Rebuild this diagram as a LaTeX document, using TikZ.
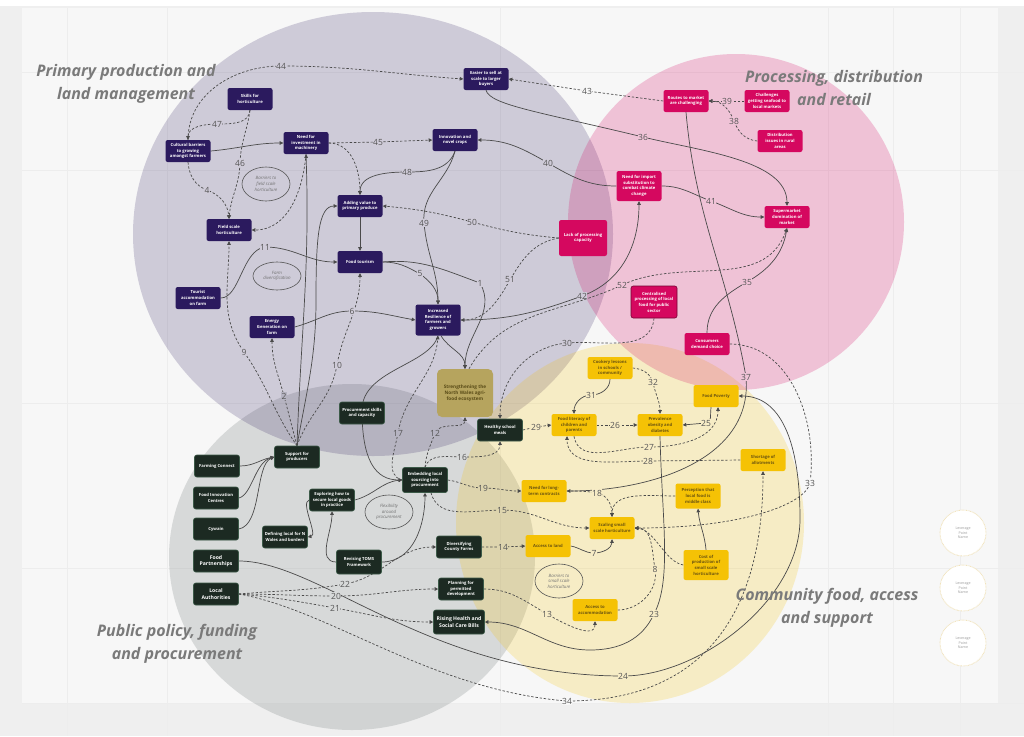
\documentclass[tikz,border=0pt]{standalone}
\usepackage{fontspec}
\setmainfont{Open Sans}
\usetikzlibrary{arrows.meta,shapes.geometric}
\pgfdeclarelayer{bg}
\pgfdeclarelayer{edges}
\pgfsetlayers{bg,edges,main}
\definecolor{bgc}{HTML}{F7F7F7}
\definecolor{outc}{HTML}{EFEFEF}
\definecolor{gridc}{HTML}{EDEDED}
\definecolor{cP}{HTML}{2D1B5E}
\definecolor{cK}{HTML}{D4005E}
\definecolor{cY}{HTML}{F5C000}
\definecolor{cG}{HTML}{7D8585}
\colorlet{rW}{bgc}
\colorlet{rP}{cP!20!bgc}
\colorlet{rK}{cK!21!bgc}
\colorlet{rY}{cY!20!bgc}
\colorlet{rG}{cG!26!bgc}
\colorlet{rGP}{cP!20!rG}
\colorlet{rGY}{cY!20!rG}
\definecolor{nodeP}{HTML}{2B1A5E}
\definecolor{nodeK}{HTML}{D5085F}
\definecolor{nodeY}{HTML}{F5C205}
\definecolor{txtY}{HTML}{6B5410}
\definecolor{nodeG}{HTML}{1C2A22}
\definecolor{nodeGb}{HTML}{3C5A48}
\definecolor{stF}{HTML}{B6A45E}
\definecolor{stT}{HTML}{5A4C18}
\definecolor{lineC}{HTML}{4A4A4A}
\definecolor{lblC}{HTML}{555555}
\definecolor{ttlC}{HTML}{7A7A7A}
\definecolor{annC}{HTML}{555555}
\definecolor{annT}{HTML}{707070}
\definecolor{levB}{HTML}{F1E3BC}
\newcommand\ndFont{\fontsize{4.2}{5.7}\selectfont\bfseries}
\newcommand\ndBig{\fontsize{5.1}{6.5}\selectfont\bfseries}
\newcommand\anFont{\fontsize{4.4}{5.6}\selectfont\itshape}
\newcommand\lbFont{\fontsize{8.5}{9}\selectfont}
\newcommand\titFont{\fontsize{16}{23}\selectfont\bfseries\itshape}
\newcommand\levFont{\fontsize{3.6}{4.6}\selectfont}
\tikzset{
  box/.style={rounded corners=2.2pt, align=center, inner sep=1pt, font=\ndFont, minimum width=45pt, minimum height=22pt},
  pn/.style={box, fill=nodeP, text=white},
  kn/.style={box, fill=nodeK, text=white},
  yn/.style={box, fill=nodeY, text=txtY},
  gn/.style={box, fill=nodeG, text=white, draw=nodeGb, line width=0.6pt},
  stbox/.style={box, fill=stF, text=stT, rounded corners=5pt, minimum width=56pt, minimum height=48pt, font=\fontsize{4.7}{6}\selectfont\bfseries},
  ann/.style={ellipse, draw=annC, line width=0.6pt, inner sep=0pt, minimum width=48pt, minimum height=34pt, align=center, font=\anFont, text=annT},
  lev/.style={circle, minimum size=46pt, fill=white, draw=levB, line width=0.9pt, dash pattern=on 0.7pt off 0.7pt, font=\levFont, text=black!40, align=center, inner sep=0pt},
  ttl/.style={font=\titFont, text=ttlC, align=center},
  ln/.style={draw=lineC, line width=0.7pt, -{Triangle[length=3.6pt,width=3.6pt]}},
  dl/.style={ln, dash pattern=on 2.4pt off 1.8pt},
  lb/.style={font=\lbFont, text=lblC, fill=#1, inner sep=0.6pt},
}
\begin{document}
\begin{tikzpicture}[x=1pt,y=1pt]
\useasboundingbox (0,0) rectangle (1024,-736);
\begin{pgfonlayer}{bg}
  \fill[outc] (0,0) rectangle (1024,-736);
  \fill[white] (0,0) rectangle (1024,-6);
  \fill[bgc] (22,-8) rectangle (998,-703);
  \foreach \gx in {67,167,500,828,893,960} \draw[gridc, line width=0.5pt] (\gx,-8) -- (\gx,-736);
  \foreach \gy in {72,170,403,568,703} \draw[gridc, line width=0.5pt] (22,-\gy) -- (1024,-\gy);
  \fill[cG, fill opacity=0.26] (352,-557) ellipse [x radius=183, y radius=173];
  \fill[cP, fill opacity=0.2] (373,-234) ellipse [x radius=240, y radius=222];
  \fill[cY, fill opacity=0.2] (630,-523) ellipse [x radius=174, y radius=180];
  \fill[cK, fill opacity=0.21] (736,-222) circle [radius=168];
\end{pgfonlayer}

% titles
\node[ttl] (t1) at (126,-84) {Primary production and\\land management};
\node[ttl] (t2) at (834,-88) {Processing, distribution\\and retail};
\node[ttl] (t3) at (177,-644) {Public policy, funding\\and procurement};
\node[ttl] (t4) at (827,-608) {Community food, access\\and support};

% purple nodes
\node[pn] (easier) at (486,-79) {Easier to sell at\\scale to larger\\buyers};
\node[pn] (skills) at (250,-99) {Skills for\\horticulture};
\node[pn] (cultural) at (188,-151) {Cultural barriers\\to growing\\amongst farmers};
\node[pn] (invest) at (306,-143) {Need for\\investment in\\machinery};
\node[pn] (innov) at (455,-140) {Innovation and\\novel crops};
\node[pn] (addval) at (360,-206) {Adding value to\\primary produce};
\node[pn] (field) at (229,-230) {Field scale\\horticulture};
\node[pn] (tourism) at (360,-262) {Food tourism};
\node[pn] (tourist) at (198,-298) {Tourist\\accommodation\\on farm};
\node[pn] (energy) at (272,-327) {Energy\\Generation on\\farm};
\node[pn, minimum height=31pt] (resil) at (438,-320) {Increased\\Resilience of\\farmers and\\growers};

% pink nodes
\node[kn] (routes) at (686,-101) {Routes to market\\are challenging};
\node[kn] (seafood) at (767,-101) {Challenges\\getting seafood to\\local markets};
\node[kn] (distrib) at (780,-141) {Distribution\\issues in rural\\areas};
\node[kn, minimum height=30pt] (import) at (639,-186) {Need for import\\substitution to\\combat climate\\change};
\node[kn] (superm) at (787,-217) {Supermarket\\domination of\\market};
\node[kn, minimum width=48pt, minimum height=36pt] (lackproc) at (583,-238) {Lack of processing\\capacity};
\node[kn, minimum width=46pt, minimum height=32pt, draw=nodeK!55!black, line width=0.6pt] (central) at (654,-302) {Centralised\\processing of local\\food for public\\sector};
\node[kn] (consumers) at (707,-344) {Consumers\\demand choice};

% yellow nodes
\node[yn] (cookery) at (610,-368) {Cookery lessons\\in schools /\\community};
\node[yn] (poverty) at (716,-396) {Food Poverty};
\node[yn] (literacy) at (574,-425) {Food literacy of\\children and\\parents};
\node[yn] (obesity) at (660,-425) {Prevalence\\obesity and\\diabetes};
\node[yn] (allot) at (763,-460) {Shortage of\\allotments};
\node[yn] (longterm) at (544,-491) {Need for long-\\term contracts};
\node[yn, minimum height=25pt] (percep) at (698,-496) {Perception that\\local food is\\middle class};
\node[yn] (scaling) at (612,-528) {Scaling small\\scale horticulture};
\node[yn] (land) at (548,-546) {Access to land};
\node[yn, minimum height=30pt] (cost) at (706,-565) {Cost of\\production of\\small scale\\horticulture};
\node[yn] (accom) at (595,-610) {Access to\\accommodation};

% green nodes
\node[gn] (meals) at (500,-430) {Healthy school\\meals};
\node[gn] (procure) at (362,-413) {Procurement skills\\and capacity};
\node[gn] (support) at (297,-457) {Support for\\producers};
\node[gn, minimum height=25pt] (embed) at (425,-480) {Embedding local\\sourcing into\\procurement};
\node[gn] (farmconn) at (217,-466) {Farming Connect};
\node[gn] (fic) at (216,-498) {Food Innovation\\Centres};
\node[gn] (cywain) at (216,-529) {Cywain};
\node[gn, font=\ndBig] (foodpart) at (216,-561) {Food\\Partnerships};
\node[gn, font=\ndBig] (localauth) at (216,-594) {Local\\Authorities};
\node[gn] (explore) at (332,-500) {Exploring how to\\secure local goods\\in practice};
\node[gn] (defining) at (285,-537) {Defining local for N\\Wales and borders};
\node[gn, minimum height=24pt] (toms) at (359,-562) {Revising TOMS\\Framework};
\node[gn] (county) at (459,-547) {Diversifying\\County Farms};
\node[gn] (planning) at (461,-589) {Planning for\\permitted\\development};
\node[gn, font=\ndBig, minimum width=51pt, minimum height=24pt] (rising) at (459,-622) {Rising Health and\\Social Care Bills};

\node[stbox] (strength) at (465,-393) {Strengthening the\\North Wales agri-\\food ecosystem};

% annotation ellipses
\node[ann] (ann1) at (266,-184) {Barriers to\\field scale\\horticulture};
\node[ann, minimum height=28pt] (ann2) at (277,-276) {Farm\\diversification};
\node[ann] (ann3) at (389,-512) {Flexibility\\around\\procurement};
\node[ann] (ann4) at (559,-581) {Barriers to\\small scale\\horticulture};

% leverage points
\node[lev] (lv1) at (963,-533) {Leverage\\Point\\Name};
\node[lev] (lv2) at (963,-588) {Leverage\\Point\\Name};
\node[lev] (lv3) at (963,-643) {Leverage\\Point\\Name};

\begin{pgfonlayer}{edges}
% primary production
\draw[dl] (cultural.north) to[out=90,in=180] (281,-66) node[lb=rP]{44} to[out=0,in=176] (easier.west);
\draw[dl] (skills.south) to[out=-95,in=0] (217,-124) node[lb=rP]{47} to[out=180,in=90] (cultural.north);
\draw[dl] (skills.south) to[out=-98,in=88] (240,-163) node[lb=rP]{46} to[out=-92,in=85] (field.north);
\draw[dl] (cultural.south) to[out=-85,in=160] (207,-190) node[lb=rP]{4} to[out=-20,in=95] (field.north);
\draw[ln] (cultural.east) to[out=5,in=180] (invest.west);
\draw[dl] (invest.east) -- (378,-142) node[lb=rP]{45} -- (innov.west);
\draw[dl] (invest.east) to[out=0,in=90] (addval.north);
\draw[ln] (innov.south) to[out=-110,in=0] (407,-172) node[lb=rP]{48} to[out=180,in=90] (addval.north);
\draw[ln] (innov.south) to[out=-105,in=95] (424,-223) node[lb=rP]{49} to[out=-85,in=90] (resil.north);
\draw[ln] (addval.south) -- (tourism.north);
\draw[dl] (lackproc.west) to[out=175,in=-15] (472,-222) node[lb=rP]{50} to[out=165,in=-5] (addval.east);
\draw[ln] (support.north) to[out=88,in=-88] (invest.south);
\draw[ln] (support.north) to[out=80,in=-90] (316,-300) .. controls (316,-240) and (318,-206) .. (addval.west);
\draw[dl] (support.north) to[out=70,in=-100] (337,-365) node[lb=rP]{10} to[out=80,in=-90] (tourism.south);
\draw[dl] (support.north) to[out=105,in=-75] (284,-396) node[lb=rGP]{2} to[out=105,in=-90] (energy.south);
\draw[dl] (support.north) to[out=125,in=-55] (244,-352) node[lb=rP]{9} to[out=125,in=-90] (field.south);
\draw[dl] (invest.south) to[out=-95,in=0] (field.east);
\draw[ln] (tourist.east) .. controls (240,-298) and (242,-250) .. (265,-247) node[lb=rP]{11} to[out=0,in=180] (tourism.west);
\draw[ln] (energy.east) to[out=15,in=180] (352,-311) node[lb=rP]{6} to[out=0,in=170] (resil.west);
\draw[ln] (tourism.east) to[out=0,in=150] (420,-274) node[lb=rP]{5} to[out=-35,in=90] (resil.north);
\draw[ln] (tourism.east) to[out=5,in=160] (480,-283) node[lb=rP]{1} to[out=-60,in=90] (strength.north);
\draw[ln] ([xshift=3pt]resil.south) to[out=-60,in=90] (strength.north);
\draw[dl] (lackproc.west) to[out=190,in=60] (510,-280) node[lb=rP]{51} to[out=-120,in=0] (resil.east);
\draw[ln] (resil.east) to[out=0,in=200] (582,-296) node[lb=rP]{42} to[out=20,in=-90] (import.south);
\draw[dl] ([xshift=4pt]strength.north) to[out=60,in=205] (622,-285) node[lb=rK]{52} to[out=25,in=-110] (superm.south);
% processing
\draw[ln] (import.west) to[out=180,in=-30] (548,-163) node[lb=rP]{40} to[out=150,in=0] (innov.east);
\draw[ln] (import.east) to[out=0,in=160] (711,-201) node[lb=rK]{41} to[out=-20,in=180] (superm.west);
\draw[ln] (consumers.north) to[out=90,in=-150] (747,-282) node[lb=rK]{35} to[out=30,in=-100] (superm.south);
\draw[dl] (routes.west) -- (587,-91) node[lb=rW]{43} -- (easier.east);
\draw[dl] (seafood.west) -- (727,-101) node[lb=rK]{39} -- (routes.east);
\draw[dl] (distrib.west) to[out=175,in=-70] (734,-121) node[lb=rK]{38} to[out=110,in=0] (routes.east);
\draw[ln] (easier.south) .. controls (490,-105) and (540,-112) .. (643,-137) node[lb=rK]{36} .. controls (700,-151) and (787,-160) .. (superm.north);
\draw[ln] (routes.south) to[out=-85,in=100] (746,-377) node[lb=rK]{37} to[out=-85,in=0] (longterm.east);
\draw[dl] (central.south) to[out=-95,in=5] (567,-343) node[lb=rP]{30} to[out=185,in=90] (meals.north);
\draw[dl] (consumers.east) .. controls (790,-344) and (818,-420) .. (810,-483) node[lb=rW]{33} .. controls (805,-505) and (740,-528) .. (scaling.east);
% community
\draw[dl] (localauth.east) .. controls (330,-610) and (430,-690) .. (567,-701) node[lb=rW]{34} .. controls (680,-701) and (763,-640) .. (allot.south);
\draw[ln] (foodpart.east) .. controls (320,-561) and (430,-676) .. (623,-676) node[lb=rY]{24} .. controls (700,-676) and (800,-600) .. (800,-519) .. controls (800,-440) and (780,-396) .. (poverty.east);
\draw[ln] (obesity.south) .. controls (662,-520) and (672,-580) .. (654,-614) node[lb=rY]{23} to[out=-115,in=0] (590,-650) to[out=180,in=0] (rising.east);
\draw[ln] ([xshift=-5pt]poverty.south) to[out=-100,in=0] (706,-423) node[lb=rY]{25} -- (obesity.east);
\draw[dl] (literacy.south) to[out=-80,in=180] (649,-447) node[lb=rY]{27} to[out=0,in=-90] ([xshift=2pt]poverty.south);
\draw[dl] (allot.west) -- (648,-461) node[lb=rY]{28} to[out=180,in=-90] ([xshift=-7pt]literacy.south);
\draw[dl] (literacy.east) -- (615,-425) node[lb=rY]{26} -- (obesity.west);
\draw[dl] (meals.east) -- (536,-427) node[lb=rY]{29} -- (literacy.west);
\draw[ln] (cookery.south) to[out=-90,in=0] (591,-395) node[lb=rY]{31} to[out=180,in=90] (literacy.north);
\draw[dl] (cookery.east) to[out=-5,in=110] (653,-382) node[lb=rY]{32} to[out=-80,in=90] (obesity.north);
\draw[dl] (embed.north) to[out=70,in=180] (462,-457) node[lb=rG]{16} to[out=0,in=-90] (meals.south);
\draw[dl] (embed.north) to[out=85,in=-110] (435,-433) node[lb=rGP]{12} to[out=70,in=-90] (strength.south);
\draw[dl] (embed.west) to[out=165,in=-100] (398,-433) node[lb=rGP]{17} to[out=80,in=-95] (resil.south);
\draw[ln] (resil.south) .. controls (430,-365) and (362,-370) .. (362,-410) .. controls (362,-460) and (375,-480) .. (embed.west);
\draw[ln] (explore.east) to[out=15,in=185] (embed.west);
\draw[dl] (embed.east) to[out=-8,in=180] (483,-488) node[lb=rGY]{19} to[out=0,in=180] (longterm.west);
\draw[dl] ([xshift=6pt]embed.south) to[out=-75,in=180] (502,-510) node[lb=rGY]{15} to[out=0,in=180] (scaling.west);
\draw[dl] (longterm.east) to[out=0,in=170] (597,-493) node[lb=rY]{18} to[out=-10,in=90] (scaling.north);
\draw[dl] (percep.west) to[out=180,in=90] (scaling.north);
\draw[dl] (county.east) -- (503,-547) node[lb=rGY]{14} -- (land.west);
\draw[ln] (land.east) to[out=-10,in=180] (594,-553) node[lb=rY]{7} to[out=0,in=-90] (scaling.south);
\draw[dl] (accom.east) to[out=0,in=-80] (655,-569) node[lb=rY]{8} to[out=100,in=0] (scaling.east);
\draw[dl] (cost.west) .. controls (665,-562) and (655,-530) .. (scaling.east);
\draw[ln] (cost.north) to[out=95,in=-85] (percep.south);
\draw[dl] (planning.east) to[out=0,in=150] (547,-614) node[lb=rY]{13} to[out=-30,in=-90] (accom.south);
% policy
\draw[dl] (localauth.east) to[out=0,in=180] (336,-596) node[lb=rG]{20} to[out=0,in=180] (planning.west);
\draw[dl] (localauth.east) to[out=5,in=190] (345,-584) node[lb=rG]{22} to[out=10,in=180] (county.west);
\draw[dl] (localauth.east) to[out=-5,in=170] (335,-608) node[lb=rG]{21} to[out=-10,in=180] (rising.west);
\draw[ln] (farmconn.east) to[out=0,in=190] (support.west);
\draw[ln] (fic.east) .. controls (252,-495) and (255,-462) .. (support.west);
\draw[ln] (cywain.east) .. controls (262,-525) and (255,-465) .. (support.west);
\draw[ln] (toms.west) to[out=180,in=-90] (explore.south);
\draw[ln] (toms.east) to[out=0,in=-90] (embed.south);
\draw[ln] (explore.west) .. controls (300,-502) and (318,-535) .. (defining.east);
\end{pgfonlayer}
\end{tikzpicture}
\end{document}
